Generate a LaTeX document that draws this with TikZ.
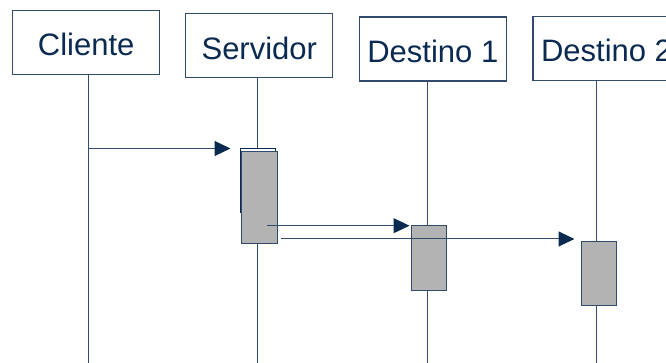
\documentclass[tikz,border=0pt]{standalone}
\usepackage{fontspec}
\setmainfont{Liberation Sans}
\usetikzlibrary{arrows.meta}
\definecolor{navy}{RGB}{10,42,82}
\definecolor{rule}{RGB}{50,74,108}
\definecolor{actgray}{RGB}{179,179,179}
\tikzset{
  head/.style={draw=rule, line width=1.1pt, fill=white, text=navy,
    minimum width=147pt, minimum height=64pt, inner sep=0pt,
    text height=27pt, text depth=0pt,
    font=\fontsize{31}{36}\selectfont},
  lifeline/.style={draw=rule, line width=1pt},
  act/.style={draw=rule, line width=1.1pt, fill=actgray, anchor=north west, inner sep=0pt},
  msg/.style={draw=rule, line width=1pt,
    -{Triangle[length=16pt,width=15pt,color=navy]}},
}
\begin{document}
\begin{tikzpicture}[x=1pt,y=-1pt]
  \useasboundingbox (0,0) rectangle (666,363);
  \clip (0,0) rectangle (666,363);

  % participants
  \node[head] (cli) at (86.2,42.2) {Cliente};
  \node[head] (srv) at (259.3,45.7) {Servidor};
  \node[head] (d1)  at (432.8,49)   {Destino 1};
  \node[head] (d2)  at (606.5,48.5) {Destino 2};

  % lifelines
  \coordinate (cliTop) at (88.3,74);   \coordinate (cliEnd) at (88.3,363);
  \coordinate (srvTop) at (257.5,77.7); \coordinate (srvEnd) at (257.5,363);
  \coordinate (d1Top)  at (427,81);    \coordinate (d1End)  at (427,363);
  \coordinate (d2Top)  at (596.3,80.3); \coordinate (d2End)  at (596.3,363);
  \draw[lifeline] (cliTop) -- (cliEnd);
  \draw[lifeline] (srvTop) -- (srvEnd);
  \draw[lifeline] (d1Top) -- (d1End);
  \draw[lifeline] (d2Top) -- (d2End);

  % activations
  \node[act, fill=white, draw=navy, minimum width=35pt, minimum height=64pt] (srvA) at (240.3,148.3) {};
  \node[act, minimum width=35.7pt, minimum height=92pt] (srvB) at (241.3,150.7) {};
  \node[act, minimum width=34.4pt, minimum height=64.4pt] (d1A) at (411.3,225.3) {};
  \node[act, minimum width=35pt, minimum height=64.3pt] (d2A) at (580.7,241) {};

  % messages
  \coordinate (m1s) at (88.3,148.5);  \coordinate (m1e) at (230.5,148.5);
  \coordinate (m2s) at (267.3,225.7); \coordinate (m2e) at (409.5,225.7);
  \coordinate (m3s) at (281,239);     \coordinate (m3e) at (574.5,239);
  \draw[msg] (m1s) -- (m1e);
  \draw[msg] (m2s) -- (m2e);
  \draw[msg] (m3s) -- (m3e);
\end{tikzpicture}
\end{document}
